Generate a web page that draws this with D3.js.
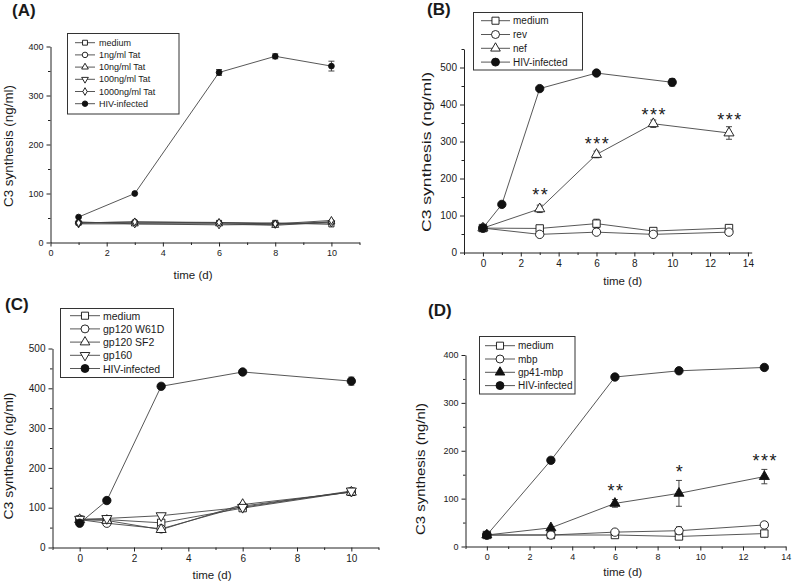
<!DOCTYPE html>
<html><head><meta charset="utf-8">
<script src="https://cdn.jsdelivr.net/npm/d3@7"></script>
<style>body{margin:0;background:#fff}svg{display:block}text{font-family:"Liberation Sans",Arial,sans-serif;fill:#1a1a1a}</style>
</head><body>
<script>
// ---------- Panel A data ----------
const aDays = [1, 3, 6, 8, 10];
const aMedium = [40, 40, 40, 40, 37];
const aTat1 = [40, 42, 40, 38, 42];
const aTat10 = [42, 38, 38, 35, 42];
const aTat100 = [38, 38, 36, 37, 40];
const aTat1000 = [40, 42, 41, 38, 45];
const aHIV = [52, 100, 347, 380, 360];
const aHIVErr = [3, 3, 6, 5, 10];
const aLegend = ["medium", "1ng/ml Tat", "10ng/ml Tat", "100ng/ml Tat", "1000ng/ml Tat", "HIV-infected"];
const aXTicks = [0, 2, 4, 6, 8, 10];
const aYTicks = [0, 100, 200, 300, 400];

// ---------- Panel B data ----------
const bDays = [0, 3, 6, 9, 13];
const bMedium = [66, 65, 78, 58, 66];
const bMediumErr = [3, 6, 12, 5, 5];
const bRev = [66, 49, 55, 49, 55];
const bRevErr = [3, 5, 5, 5, 5];
const bNef = [66, 118, 265, 348, 323];
const bNefErr = [3, 10, 9, 10, 17];
const bHIVDays = [0, 1, 3, 6, 10];
const bHIV = [66, 130, 443, 485, 460];
const bHIVErr = [3, 5, 5, 5, 10];
const bStarDays = [3, 6, 9, 13];
const bStarValues = [167, 304, 381, 369];
const bStarLabels = ["**", "***", "***", "***"];
const bLegend = ["medium", "rev", "nef", "HIV-infected"];
const bXTicks = [0, 2, 4, 6, 8, 10, 12, 14];
const bYTicks = [0, 100, 200, 300, 400, 500];

// ---------- Panel C data ----------
const cDays = [0, 1, 3, 6, 10];
const cMedium = [70, 70, 62, 99, 140];
const cW61D = [70, 61, 47, 104, 140];
const cSF2 = [70, 68, 45, 108, 139];
const cGp160 = [71, 73, 80, 101, 142];
const cHIV = [61, 118, 405, 441, 418];
const cHIVErr = [3, 3, 5, 4, 10];
const cLegend = ["medium", "gp120 W61D", "gp120 SF2", "gp160", "HIV-infected"];
const cXTicks = [0, 2, 4, 6, 8, 10];
const cYTicks = [0, 100, 200, 300, 400, 500];

// ---------- Panel D data ----------
const dDays = [0, 3, 6, 9, 13];
const dMedium = [24, 24, 24, 21, 27];
const dMbp = [24, 24, 30, 33, 45];
const dMbpErr = [2, 3, 5, 8, 6];
const dGp41 = [24, 39, 90, 111, 146];
const dGp41Err = [2, 4, 8, 27, 15];
const dHIV = [24, 180, 354, 367, 374];
const dHIVErr = [2, 5, 4, 3, 5];
const dStarDays = [6, 9, 13];
const dStarValues = [125, 164, 186];
const dStarLabels = ["**", "*", "***"];
const dLegend = ["medium", "mbp", "gp41-mbp", "HIV-infected"];
const dXTicks = [0, 2, 4, 6, 8, 10, 12, 14];
const dYTicks = [0, 100, 200, 300, 400];

// ---------------------------------------------------------------
const svg = d3.select("body").append("svg").attr("width", 800).attr("height", 586);

const symTypes = {square: d3.symbolSquare, circle: d3.symbolCircle, triangle: d3.symbolTriangle,
  down: d3.symbolTriangle, diamond: d3.symbolDiamond};

function marker(g, type, filled, size, x, y) {
  const p = g.append("path")
    .attr("d", d3.symbol().type(symTypes[type]).size(type === "triangle" || type === "down" ? size * 0.8 : (type === "diamond" ? size * 0.7 : size))())
    .attr("fill", filled ? "#111" : "#fff")
    .attr("stroke", "#111").attr("stroke-width", 0.9);
  p.attr("transform", `translate(${x},${y})` + (type === "down" ? " rotate(180)" : ""));
  return p;
}

function panel(cfg) {
  const g = svg.append("g");
  const x = d3.scaleLinear().domain(cfg.xDomain).range(cfg.xRange);
  const y = d3.scaleLinear().domain(cfg.yDomain).range(cfg.yRange);
  const x0 = cfg.xRange[0], y0 = cfg.yRange[0];

  const xMinor = d3.range(Math.ceil(cfg.xDomain[0]), Math.floor(cfg.xDomain[1]) + 1).filter(v => !cfg.xTicks.includes(v));
  const yMinor = d3.range(0, cfg.yDomain[1] + 1, 50).filter(v => !cfg.yTicks.includes(v));

  g.append("g").attr("transform", `translate(0,${y0})`)
    .call(d3.axisBottom(x).tickValues(cfg.xTicks).tickSize(4).tickSizeOuter(0).tickPadding(3));
  g.append("g").attr("transform", `translate(0,${y0})`)
    .call(d3.axisBottom(x).tickValues(xMinor).tickSize(2.5).tickSizeOuter(0).tickFormat(""))
    .select(".domain").remove();
  g.append("g").attr("transform", `translate(${x0},0)`)
    .call(d3.axisLeft(y).tickValues(cfg.yTicks).tickSize(4).tickSizeOuter(0).tickPadding(3));
  g.append("g").attr("transform", `translate(${x0},0)`)
    .call(d3.axisLeft(y).tickValues(yMinor).tickSize(2.5).tickSizeOuter(0).tickFormat(""))
    .select(".domain").remove();
  g.selectAll(".domain, .tick line").attr("stroke", "#222").attr("stroke-width", 1);
  g.selectAll(".tick text").attr("font-size", cfg.tickFont).attr("font-family", "Liberation Sans, Arial, sans-serif").attr("fill", "#333");

  g.append("text").attr("x", cfg.xTitlePos[0]).attr("y", cfg.xTitlePos[1])
    .attr("text-anchor", "middle").attr("dominant-baseline", "middle").attr("font-size", 11.5).attr("fill", "#333").text("time (d)");
  g.append("text").attr("transform", `translate(${cfg.yTitlePos[0]},${cfg.yTitlePos[1]}) rotate(-90)`)
    .attr("text-anchor", "middle").attr("dominant-baseline", "middle").attr("font-size", 12).attr("fill", "#333")
    .attr("textLength", cfg.yTitleLen).attr("lengthAdjust", "spacingAndGlyphs").text(cfg.yTitle);
  g.append("text").attr("x", cfg.letterPos[0]).attr("y", cfg.letterPos[1])
    .attr("font-family", "Liberation Serif, Times New Roman, serif").attr("font-weight", "bold")
    .attr("font-size", 17).attr("fill", "#111").text(cfg.letter);

  const line = d3.line().x(d => x(d[0])).y(d => y(d[1]));
  cfg.series.forEach(s => {
    const pts = s.days.map((d, i) => [d, s.values[i]]);
    g.append("path").attr("d", line(pts)).attr("fill", "none").attr("stroke", "#444").attr("stroke-width", 0.9);
  });
  cfg.series.forEach(s => {
    s.days.forEach((d, i) => {
      if (s.err && s.err[i] > 4) {
        const cx = x(d), ylo = y(s.values[i] - s.err[i]), yhi = y(s.values[i] + s.err[i]);
        g.append("line").attr("x1", cx).attr("x2", cx).attr("y1", ylo).attr("y2", yhi).attr("stroke", "#333").attr("stroke-width", 0.9);
        [ylo, yhi].forEach(yy => g.append("line").attr("x1", cx - 3).attr("x2", cx + 3).attr("y1", yy).attr("y2", yy).attr("stroke", "#333").attr("stroke-width", 0.9));
      }
      marker(g, s.sym, s.filled, cfg.markerSize, x(d), y(s.values[i]));
    });
  });
  if (cfg.stars) {
    const fs = 18;
    cfg.stars.days.forEach((d, i) => {
      g.append("text").attr("x", x(d) + 1).attr("y", y(cfg.stars.values[i]) + fs * 0.55)
        .attr("text-anchor", "middle")
        .attr("font-size", fs).attr("letter-spacing", 1.5).attr("fill", "#333").text(cfg.stars.labels[i]);
    });
  }
  const L = cfg.legend;
  g.append("rect").attr("x", L.box[0]).attr("y", L.box[1]).attr("width", L.box[2]).attr("height", L.box[3])
    .attr("fill", "#fff").attr("stroke", "#333").attr("stroke-width", 1);
  cfg.series.forEach((s, i) => {
    const yy = L.y0 + i * L.dy;
    g.append("line").attr("x1", L.lineX[0]).attr("x2", L.lineX[1]).attr("y1", yy).attr("y2", yy).attr("stroke", "#444").attr("stroke-width", 0.9);
    marker(g, s.sym, s.filled, L.markerSize, (L.lineX[0] + L.lineX[1]) / 2, yy);
    g.append("text").attr("x", L.textX).attr("y", yy).attr("dominant-baseline", "central")
      .attr("font-size", L.font).attr("fill", "#222").text(cfg.legendLabels[i]);
  });
}

panel({
  letter: "(A)", letterPos: [12, 16],
  xDomain: [0, 11], xRange: [50.5, 359.5], yDomain: [0, 400], yRange: [242.5, 46.5],
  xTicks: aXTicks, yTicks: aYTicks, tickFont: 9,
  xTitlePos: [193, 276], yTitlePos: [10, 146], yTitleLen: 122, yTitle: "C3 synthesis (ng/ml)",
  markerSize: 26,
  series: [
    {days: aDays, values: aMedium, sym: "square"},
    {days: aDays, values: aTat1, sym: "circle"},
    {days: aDays, values: aTat10, sym: "triangle"},
    {days: aDays, values: aTat100, sym: "down"},
    {days: aDays, values: aTat1000, sym: "diamond"},
    {days: aDays, values: aHIV, err: aHIVErr, sym: "circle", filled: true}
  ],
  legendLabels: aLegend,
  legend: {box: [67.5, 33.5, 111.5, 80.5], y0: 42.7, dy: 12.2, lineX: [75, 95], textX: 99, font: 9, markerSize: 24}
});

panel({
  letter: "(B)", letterPos: [427, 15],
  xDomain: [-1, 14.2], xRange: [464, 751.7], yDomain: [0, 550], yRange: [252.5, 49],
  xTicks: bXTicks, yTicks: bYTicks, tickFont: 10,
  xTitlePos: [622.7, 281.7], yTitlePos: [428, 152], yTitleLen: 160, yTitle: "C3 synthesis (ng/ml)",
  markerSize: 55,
  series: [
    {days: bDays, values: bMedium, err: bMediumErr, sym: "square"},
    {days: bDays, values: bRev, err: bRevErr, sym: "circle"},
    {days: bDays, values: bNef, err: bNefErr, sym: "triangle"},
    {days: bHIVDays, values: bHIV, err: bHIVErr, sym: "circle", filled: true}
  ],
  stars: {days: bStarDays, values: bStarValues, labels: bStarLabels},
  legendLabels: bLegend,
  legend: {box: [473.5, 12.5, 109, 57.5], y0: 20.7, dy: 13.8, lineX: [481, 510], textX: 513, font: 10, markerSize: 50}
});

panel({
  letter: "(C)", letterPos: [5, 310],
  xDomain: [-1, 11], xRange: [52.5, 378.5], yDomain: [0, 500], yRange: [547.5, 348.5],
  xTicks: cXTicks, yTicks: cYTicks, tickFont: 10,
  xTitlePos: [212, 575.7], yTitlePos: [10, 456], yTitleLen: 127, yTitle: "C3 synthesis (ng/ml)",
  markerSize: 55,
  series: [
    {days: cDays, values: cMedium, sym: "square"},
    {days: cDays, values: cW61D, sym: "circle"},
    {days: cDays, values: cSF2, sym: "triangle"},
    {days: cDays, values: cGp160, sym: "down"},
    {days: cDays, values: cHIV, err: cHIVErr, sym: "circle", filled: true}
  ],
  legendLabels: cLegend,
  legend: {box: [60.5, 308.5, 113, 69], y0: 315.7, dy: 13.2, lineX: [70, 100], textX: 103, font: 10.5, markerSize: 50}
});

panel({
  letter: "(D)", letterPos: [428, 316],
  xDomain: [-1, 14], xRange: [465.5, 785.7], yDomain: [0, 400], yRange: [546.5, 355],
  xTicks: dXTicks, yTicks: dYTicks, tickFont: 9,
  xTitlePos: [622.7, 573.3], yTitlePos: [421.7, 469], yTitleLen: 132, yTitle: "C3 synthesis (ng/nl)",
  markerSize: 55,
  series: [
    {days: dDays, values: dMedium, sym: "square"},
    {days: dDays, values: dMbp, err: dMbpErr, sym: "circle"},
    {days: dDays, values: dGp41, err: dGp41Err, sym: "triangle", filled: true},
    {days: dDays, values: dHIV, err: dHIVErr, sym: "circle", filled: true}
  ],
  stars: {days: dStarDays, values: dStarValues, labels: dStarLabels},
  legendLabels: dLegend,
  legend: {box: [479.5, 336.5, 95.5, 57.5], y0: 345.7, dy: 13.3, lineX: [485, 515], textX: 518, font: 10, markerSize: 50}
});
</script>
</body></html>
